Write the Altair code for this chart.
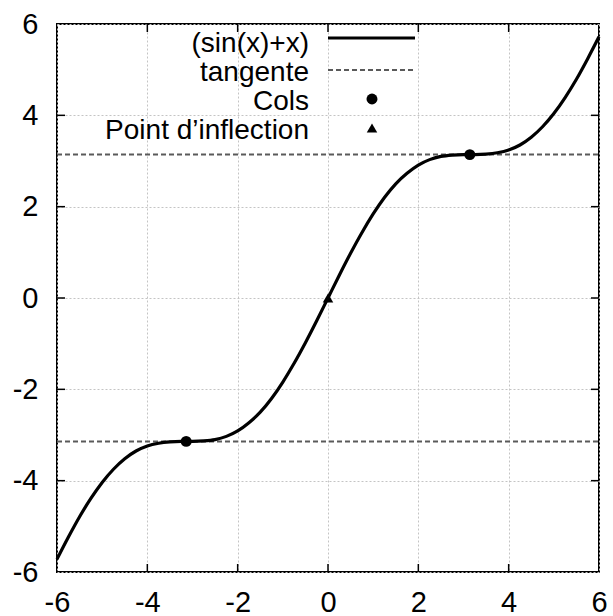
import altair as alt
import pandas as pd

# curve values (x, sin(x)+x)
curve_x = [-6, -5.75, -5.5, -5.25, -5, -4.75, -4.5, -4.25, -4, -3.75, -3.5, -3.25,
           -3, -2.75, -2.5, -2.25, -2, -1.75, -1.5, -1.25, -1, -0.75, -0.5, -0.25,
           0, 0.25, 0.5, 0.75, 1, 1.25, 1.5, 1.75, 2, 2.25, 2.5, 2.75,
           3, 3.25, 3.5, 3.75, 4, 4.25, 4.5, 4.75, 5, 5.25, 5.5, 5.75, 6]
curve_y = [-5.72, -5.24, -4.79, -4.39, -4.04, -3.75, -3.52, -3.35, -3.24, -3.18, -3.15, -3.14,
           -3.14, -3.13, -3.10, -3.03, -2.91, -2.73, -2.50, -2.20, -1.84, -1.43, -0.98, -0.50,
           0.00, 0.50, 0.98, 1.43, 1.84, 2.20, 2.50, 2.73, 2.91, 3.03, 3.10, 3.13,
           3.14, 3.14, 3.15, 3.18, 3.24, 3.35, 3.52, 3.75, 4.04, 4.39, 4.79, 5.24, 5.72]
tangent_y = [3.14, -3.14]
cols_x = [3.14, -3.14]
cols_y = [3.14, -3.14]
inflect_x = [0.0]
inflect_y = [0.0]
tick_values = [-4, -2, 0, 2, 4]
axis_values = [-6, -4, -2, 0, 2, 4, 6]
legend_labels = ["(sin(x)+x)", "tangente", "Cols", "Point d\u2019inflection"]

W, H = 542, 548
FONT = "Liberation Sans"
dom = [-6, 6]
xs = alt.Scale(domain=dom, nice=False, zero=False)
ys = alt.Scale(domain=dom, nice=False, zero=False)

curve_df = pd.DataFrame({"x": curve_x, "y": curve_y})
tan_rows = []
for i, t in enumerate(tangent_y):
    tan_rows.append({"x": dom[0], "y": t, "g": i})
    tan_rows.append({"x": dom[1], "y": t, "g": i})
tan_df = pd.DataFrame(tan_rows)
cols_df = pd.DataFrame({"x": cols_x, "y": cols_y})
infl_df = pd.DataFrame({"x": inflect_x, "y": inflect_y})
ticks_df = pd.DataFrame({"v": tick_values})

base_axes = alt.Chart(curve_df).mark_point(opacity=0).encode(
    x=alt.X("x:Q", scale=xs, title=None,
            axis=alt.Axis(values=axis_values, labelPadding=16, labelFlush=False,
                          labelExpr="toString(datum.value)")),
    y=alt.Y("y:Q", scale=ys, title=None,
            axis=alt.Axis(values=axis_values, labelPadding=19, labelFlush=False,
                          labelExpr="toString(datum.value)")),
)

tangents = alt.Chart(tan_df).mark_line(color="#5a5a5a", strokeWidth=2, strokeDash=[5, 3]).encode(
    x=alt.X("x:Q", scale=xs), y=alt.Y("y:Q", scale=ys), detail="g:N")

curve = alt.Chart(curve_df).mark_line(color="black", strokeWidth=3.2, interpolate="monotone").encode(
    x=alt.X("x:Q", scale=xs), y=alt.Y("y:Q", scale=ys))

cols = alt.Chart(cols_df).mark_point(shape="circle", filled=True, color="black", size=120, opacity=1).encode(
    x=alt.X("x:Q", scale=xs), y=alt.Y("y:Q", scale=ys))

infl = alt.Chart(infl_df).mark_point(shape="triangle-up", filled=True, color="black", size=110, opacity=1).encode(
    x=alt.X("x:Q", scale=xs), y=alt.Y("y:Q", scale=ys))

tick_len = 8
tb = alt.Chart(ticks_df).mark_rule(color="black", strokeWidth=1.5).encode(
    x=alt.X("v:Q", scale=xs), y=alt.value(H), y2=alt.value(H - tick_len))
tt = alt.Chart(ticks_df).mark_rule(color="black", strokeWidth=1.5).encode(
    x=alt.X("v:Q", scale=xs), y=alt.value(0), y2=alt.value(tick_len))
tl = alt.Chart(ticks_df).mark_rule(color="black", strokeWidth=1.5).encode(
    y=alt.Y("v:Q", scale=ys), x=alt.value(0), x2=alt.value(tick_len))
tr = alt.Chart(ticks_df).mark_rule(color="black", strokeWidth=1.5).encode(
    y=alt.Y("v:Q", scale=ys), x=alt.value(W), x2=alt.value(W - tick_len))

# legend (manual, text left of symbol)
lx = 252
lbase = [28, 57, 86, 115]
leg_layers = []
for lab, by in zip(legend_labels, lbase):
    leg_layers.append(
        alt.Chart(pd.DataFrame({"t": [lab]})).mark_text(
            align="right", baseline="alphabetic", font=FONT, fontSize=28, color="black"
        ).encode(text="t:N", x=alt.value(lx), y=alt.value(by))
    )
one = pd.DataFrame({"a": [0]})
leg_line = alt.Chart(one).mark_rule(color="black", strokeWidth=3.2).encode(
    x=alt.value(271), x2=alt.value(358), y=alt.value(14))
leg_tan = alt.Chart(one).mark_rule(color="#5a5a5a", strokeWidth=2, strokeDash=[5, 3]).encode(
    x=alt.value(271), x2=alt.value(358), y=alt.value(46))
leg_dot = alt.Chart(one).mark_point(shape="circle", filled=True, color="black", size=120, opacity=1).encode(
    x=alt.value(315), y=alt.value(75))
leg_tri = alt.Chart(one).mark_point(shape="triangle-up", filled=True, color="black", size=110, opacity=1).encode(
    x=alt.value(315), y=alt.value(104))

chart = alt.layer(
    base_axes, tangents, curve, cols, infl, tb, tt, tl, tr,
    *leg_layers, leg_line, leg_tan, leg_dot, leg_tri
).properties(
    width=W, height=H,
    autosize=alt.AutoSizeParams(type="none"),
    padding={"left": 57, "top": 24, "right": 14, "bottom": 44},
    background="white",
).configure_view(
    stroke="black", strokeWidth=2
).configure_axis(
    domain=False, ticks=False,
    grid=True, gridColor="#c4c4c4", gridDash=[2, 2], gridWidth=1,
    labelFont=FONT, labelFontSize=29, labelColor="black",
)

chart.save("out.html", embed_options={"renderer": "svg", "actions": False})
